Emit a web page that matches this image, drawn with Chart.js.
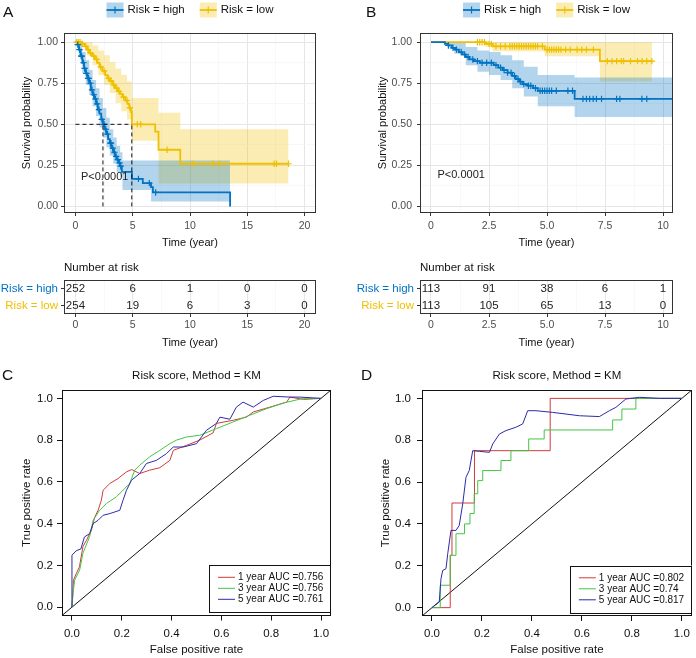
<!DOCTYPE html>
<html><head><meta charset="utf-8">
<script src="https://cdn.jsdelivr.net/npm/chart.js"></script>
<style>
html,body{margin:0;padding:0;background:#fff}
body{width:696px;height:658px;position:relative;overflow:hidden}
canvas{position:absolute;display:block}
</style></head>
<body>
<canvas id="kmA" width="340" height="252" style="left:0;top:0;width:340px;height:252px"></canvas>
<canvas id="tabA" width="340" height="100" style="left:0;top:255px;width:340px;height:100px"></canvas>
<canvas id="kmB" width="350" height="252" style="left:346px;top:0;width:350px;height:252px"></canvas>
<canvas id="tabB" width="350" height="100" style="left:346px;top:255px;width:350px;height:100px"></canvas>
<canvas id="rocC" width="346" height="303" style="left:0;top:355px;width:346px;height:303px"></canvas>
<canvas id="rocD" width="350" height="303" style="left:346px;top:355px;width:350px;height:303px"></canvas>
<script>
// ================= DATA =================
const groups = ['Risk = high', 'Risk = low'];

// ---- Panel A (Kaplan-Meier) ----
const kmA_highTime = [0,0.15,0.3,0.45,0.6,0.75,0.9,1.05,1.2,1.35,1.5,1.65,1.8,1.95,2.1,2.25,2.4,2.55,2.7,2.85,3.0,3.15,3.3,3.45,3.6,3.75,3.9,4.05,4.93,5.88,6.6,6.76,13.5];
const kmA_highSurv = [1,0.985,0.955,0.915,0.875,0.84,0.81,0.78,0.75,0.71,0.68,0.655,0.625,0.59,0.565,0.53,0.5,0.47,0.44,0.41,0.385,0.355,0.33,0.305,0.285,0.265,0.245,0.21,0.168,0.142,0.118,0.085,0];
const kmA_highCensor = [0.2,0.35,0.5,0.55,0.7,0.8,0.95,1.1,1.15,1.3,1.45,1.6,1.75,1.9,2.05,2.3,2.5,2.65,2.8,3.05,3.1,3.25,3.4,3.55,3.7,3.85,3.95,5.5,6.45,7.0];
const kmA_highBandTime = [0,0.3,0.6,0.9,1.2,1.5,1.8,2.1,2.4,2.7,3.0,3.3,3.6,3.9,4.1,6.6,13.5];
const kmA_highUpper = [1,0.99,0.94,0.89,0.83,0.77,0.72,0.66,0.60,0.54,0.47,0.42,0.37,0.33,0.28,0.28,0.28];
const kmA_highLower = [1,0.92,0.81,0.74,0.68,0.61,0.55,0.48,0.42,0.36,0.31,0.26,0.21,0.18,0.10,0.03,0.03];

const kmA_lowTime = [0,0.5,0.8,1.0,1.2,1.45,1.7,1.9,2.1,2.35,2.6,2.8,3.0,3.25,3.45,3.7,3.9,4.1,4.35,4.55,4.7,4.85,4.92,6.96,7.25,9.15,18.6];
const kmA_lowSurv = [1,0.99,0.975,0.955,0.935,0.915,0.895,0.875,0.85,0.825,0.8,0.78,0.765,0.74,0.72,0.7,0.685,0.665,0.645,0.625,0.6,0.575,0.5,0.455,0.345,0.26,0.26];
const kmA_lowCensor = [0.1,0.25,0.4,0.6,0.9,1.1,1.3,1.6,1.85,2.2,2.5,2.9,3.1,3.35,3.6,3.8,4.2,4.5,4.75,5.4,5.7,8.0,10.3,12.0,12.6,17.35,17.55,18.6];
const kmA_lowBandTime = [0,0.5,1.0,1.5,2.0,2.5,3.0,3.5,4.0,4.5,4.92,7.25,9.15,18.6];
const kmA_lowUpper = [1,1,1,0.98,0.95,0.92,0.88,0.84,0.80,0.76,0.66,0.57,0.47,0.47];
const kmA_lowLower = [1,0.97,0.92,0.86,0.80,0.74,0.69,0.63,0.58,0.53,0.40,0.14,0.14,0.14];

const kmA_median = [2.4, 4.92];
const kmA_pValue = 'P<0.0001';
const kmA_xTicks = [0,5,10,15,20];
const kmA_xLabels = ['0','5','10','15','20'];
const riskA_times = [0,5,10,15,20];
const riskA_high = [252,6,1,0,0];
const riskA_low = [254,19,6,3,0];

// ---- Panel B (Kaplan-Meier) ----
const kmB_highTime = [0,0.6,0.75,0.9,1.05,1.2,1.35,1.5,1.65,1.85,2.1,2.7,2.9,3.1,3.3,3.5,3.65,3.8,3.95,4.15,4.4,4.6,6.19,10.45];
const kmB_highSurv = [1,0.99,0.98,0.966,0.955,0.94,0.925,0.91,0.895,0.885,0.875,0.86,0.845,0.83,0.815,0.795,0.775,0.76,0.745,0.735,0.72,0.704,0.655,0.655];
const kmB_highCensor = [0.75,0.95,1.1,1.3,1.45,1.6,1.8,2.0,2.2,2.4,2.6,2.8,3.0,3.15,3.3,3.45,3.6,3.75,3.85,4.0,4.2,4.3,4.5,4.7,4.8,4.9,5.0,5.1,5.2,5.4,5.9,6.1,6.55,6.7,6.84,6.99,7.13,7.35,8.0,8.14,9.09,9.3];
const kmB_highBandTime = [0,0.6,1.0,1.5,2.0,2.5,3.0,3.5,4.0,4.6,6.19,10.45];
const kmB_highUpper = [1,1,1,0.97,0.95,0.94,0.92,0.89,0.85,0.80,0.785,0.785];
const kmB_highLower = [1,0.98,0.93,0.86,0.82,0.80,0.77,0.72,0.67,0.61,0.545,0.545];

const kmB_lowTime = [0,2.35,2.65,4.9,7.28,9.52];
const kmB_lowSurv = [1,0.99,0.975,0.955,0.885,0.885];
const kmB_lowCensor = [2.0,2.1,2.2,2.3,2.5,2.6,2.8,3.0,3.2,3.4,3.5,3.6,3.7,3.8,3.9,4.0,4.1,4.2,4.3,4.4,4.5,4.6,4.8,5.0,5.1,5.2,5.3,5.4,5.5,5.6,5.8,6.0,6.3,6.5,6.7,7.0,7.6,7.8,8.0,8.2,8.3,8.6,8.9,9.1,9.3,9.52];
const kmB_lowBandTime = [0,2.35,2.65,4.9,7.28,9.52];
const kmB_lowUpper = [1,1,1,1,1,1];
const kmB_lowLower = [1,0.97,0.945,0.915,0.76,0.76];

const kmB_pValue = 'P<0.0001';
const kmB_xTicks = [0,2.5,5,7.5,10];
const kmB_xLabels = ['0','2.5','5.0','7.5','10'];
const riskB_times = [0,2.5,5,7.5,10];
const riskB_high = [113,91,38,6,1];
const riskB_low = [113,105,65,13,0];

const km_yTicks = [0,0.25,0.5,0.75,1];
const km_yLabels = ['0.00','0.25','0.50','0.75','1.00'];

// ---- Panel C (time-dependent ROC) ----
const rocC_fpr1 = [0,0.004,0.006,0.017,0.03,0.044,0.058,0.078,0.091,0.105,0.118,0.125,0.152,0.185,0.219,0.24,0.272,0.312,0.353,0.393,0.407,0.46,0.513,0.567,0.58,0.647,0.7,0.728,0.795,0.862,0.875,0.93,1];
const rocC_tpr1 = [0,0.07,0.129,0.16,0.193,0.29,0.32,0.368,0.43,0.464,0.512,0.56,0.592,0.616,0.648,0.659,0.64,0.656,0.668,0.703,0.751,0.775,0.8,0.835,0.88,0.895,0.91,0.935,0.958,0.982,1.006,0.995,1];
const rocC_fpr3 = [0,0.004,0.011,0.031,0.044,0.071,0.085,0.111,0.138,0.178,0.205,0.232,0.252,0.272,0.312,0.353,0.393,0.42,0.46,0.513,0.58,0.647,0.714,0.78,0.85,0.922,1];
const rocC_tpr3 = [0,0.066,0.13,0.178,0.258,0.338,0.416,0.464,0.496,0.528,0.56,0.592,0.656,0.68,0.72,0.751,0.783,0.8,0.815,0.823,0.855,0.887,0.919,0.95,0.978,0.998,1];
const rocC_fpr5 = [0,0,0.017,0.036,0.05,0.071,0.085,0.105,0.125,0.152,0.192,0.205,0.219,0.239,0.272,0.299,0.339,0.379,0.407,0.447,0.5,0.54,0.58,0.594,0.634,0.66,0.687,0.728,0.768,0.808,0.875,0.915,1];
const rocC_tpr5 = [0,0.249,0.27,0.279,0.336,0.352,0.4,0.416,0.44,0.448,0.464,0.512,0.56,0.608,0.64,0.688,0.703,0.735,0.767,0.767,0.783,0.847,0.88,0.91,0.9,0.958,0.982,0.958,0.99,1.01,1.006,1.006,1];
const rocC_legend = ['1 year AUC =0.756','3 year AUC =0.756','5 year AUC =0.761'];

// ---- Panel D (time-dependent ROC) ----
const rocD_fpr1 = [0,0.073,0.073,0.08,0.08,0.17,0.17,0.473,0.473,1];
const rocD_tpr1 = [0,0,0.25,0.25,0.5,0.5,0.75,0.75,1,1];
const rocD_fpr3 = [0,0.033,0.033,0.073,0.073,0.096,0.096,0.13,0.13,0.152,0.152,0.169,0.169,0.183,0.183,0.203,0.203,0.276,0.276,0.316,0.316,0.387,0.387,0.449,0.449,0.723,0.723,0.76,0.76,0.816,0.816,1];
const rocD_tpr3 = [0,0,0.107,0.107,0.25,0.25,0.353,0.353,0.4,0.4,0.45,0.45,0.544,0.544,0.607,0.607,0.655,0.655,0.703,0.703,0.75,0.75,0.806,0.806,0.849,0.849,0.897,0.897,0.949,0.949,1,1];
const rocD_fpr5 = [0,0.029,0.036,0.043,0.056,0.063,0.076,0.096,0.109,0.123,0.136,0.149,0.163,0.19,0.23,0.243,0.27,0.296,0.336,0.363,0.383,0.416,0.483,0.59,0.67,0.71,0.736,0.776,0.83,0.91,1];
const rocD_tpr5 = [0,0.027,0.138,0.178,0.186,0.258,0.369,0.369,0.393,0.496,0.623,0.655,0.75,0.747,0.742,0.782,0.83,0.846,0.862,0.878,0.941,0.941,0.933,0.917,0.913,0.941,0.957,0.997,1.005,1,1];
const rocD_legend = ['1 year AUC =0.802','3 year AUC =0.74','5 year AUC =0.817'];

const roc_ticks = [0,0.2,0.4,0.6,0.8,1];
const roc_labels = ['0.0','0.2','0.4','0.6','0.8','1.0'];
const roc_limits = [-0.04, 1.04];

// ================= STYLE / HELPERS =================
const FONT = '"Liberation Sans", Arial, Helvetica, sans-serif';
Chart.defaults.font.family = FONT;
Chart.defaults.color = '#333';
const BLUE = '#0073C2', YELLOW = '#EFC000';
const BLUE_FILL = 'rgba(0,115,194,0.30)', YELLOW_FILL = 'rgba(239,192,0,0.30)';
const ROC_COLORS = ['#D23A3A', '#45C445', '#2B2BAA'];
const KM_STEP = 'before'; // horizontal first, then vertical drop (Kaplan-Meier step)

const pts = (xs, ys) => xs.map((x, i) => ({x, y: ys[i]}));
function stepAt(ts, ss, t) { let v = ss[0]; for (let i = 0; i < ts.length; i++) { if (ts[i] <= t) v = ss[i]; } return v; }
function txt(ctx, s, x, y, o = {}) {
  ctx.save();
  ctx.font = `${o.weight || 'normal'} ${o.size || 11}px ${FONT}`;
  ctx.fillStyle = o.color || '#111';
  ctx.textAlign = o.align || 'center';
  ctx.textBaseline = o.base || 'middle';
  ctx.fillText(s, x, y);
  ctx.restore();
}
function withMinors(major) {
  const out = [];
  for (let i = 0; i < major.length; i++) { out.push(major[i]); if (i < major.length - 1) out.push((major[i] + major[i + 1]) / 2); }
  return out;
}
const framePlugin = (color) => ({
  id: 'frame',
  afterDatasetsDraw(chart) {
    const a = chart.chartArea, c = chart.ctx;
    c.save(); c.strokeStyle = color; c.lineWidth = 1;
    c.strokeRect(Math.round(a.left) + 0.5, Math.round(a.top) + 0.5, Math.round(a.right - a.left) - 1, Math.round(a.bottom - a.top) - 1);
    c.restore();
  }
});
const letterPlugin = (ch, x, y) => ({ id: 'letter', afterDraw(chart) { txt(chart.ctx, ch, x, y, {size: 15.5, color: '#111', align: 'left', base: 'alphabetic'}); } });

function kmXScale(lim, major, labels, height, tickPad, title, titlePad) {
  const all = withMinors(major);
  const isMaj = v => major.indexOf(v) >= 0;
  return {
    type: 'linear', min: lim[0], max: lim[1],
    afterBuildTicks: s => { s.ticks = all.map(v => ({value: v})); },
    afterFit: s => { s.height = height; },
    ticks: {autoSkip: false, maxRotation: 0, padding: tickPad, color: '#4D4D4D', font: {size: 10.5},
      callback: v => { const i = major.indexOf(v); return i >= 0 ? labels[i] : ''; }},
    grid: {
      color: c => (c.tick && isMaj(c.tick.value)) ? '#E6E6E6' : '#F3F3F3',
      lineWidth: c => (c.tick && isMaj(c.tick.value)) ? 1 : 0.6,
      tickColor: c => (c.tick && isMaj(c.tick.value)) ? '#333' : 'rgba(0,0,0,0)',
      tickLength: 3
    },
    border: {display: false},
    title: {display: true, text: title, color: '#111', font: {size: 11}, padding: {top: 0, bottom: titlePad}}
  };
}
function kmYScale(width, tickPad, titlePad) {
  const all = withMinors(km_yTicks);
  const isMaj = v => km_yTicks.indexOf(v) >= 0;
  return {
    type: 'linear', min: -0.04, max: 1.056,
    afterBuildTicks: s => { s.ticks = all.map(v => ({value: v})); },
    afterFit: s => { s.width = width; },
    ticks: {autoSkip: false, padding: tickPad, color: '#4D4D4D', font: {size: 10.5},
      callback: v => { const i = km_yTicks.indexOf(v); return i >= 0 ? km_yLabels[i] : ''; }},
    grid: {
      color: c => (c.tick && isMaj(c.tick.value)) ? '#E6E6E6' : '#F3F3F3',
      lineWidth: c => (c.tick && isMaj(c.tick.value)) ? 1 : 0.6,
      tickColor: c => (c.tick && isMaj(c.tick.value)) ? '#333' : 'rgba(0,0,0,0)',
      tickLength: 3
    },
    border: {display: false},
    title: {display: true, text: 'Survival probability', color: '#111', font: {size: 11}, padding: {top: titlePad, bottom: 0}}
  };
}
function kmGroup(g) {
  return [
    {data: pts(g.bandT, g.up), stepped: KM_STEP, borderWidth: 0, borderColor: 'rgba(0,0,0,0)', pointRadius: 0, fill: '+1', backgroundColor: g.fill, order: 10},
    {data: pts(g.bandT, g.lo), stepped: KM_STEP, borderWidth: 0, borderColor: 'rgba(0,0,0,0)', pointRadius: 0, fill: false, order: 10}
  ];
}
function kmLines(g) {
  return [
    {data: pts(g.t, g.s), stepped: KM_STEP, borderColor: g.color, borderWidth: 1.8, pointRadius: 0, fill: false, order: 4},
    {data: g.cens.map(t => ({x: t, y: stepAt(g.t, g.s, t)})), showLine: false, pointStyle: 'cross', pointRadius: 3.2,
      pointBorderColor: g.color, pointBackgroundColor: g.color, pointBorderWidth: 1.2, borderColor: g.color, order: 3}
  ];
}
const kmLegendPlugin = {
  id: 'kmLegend',
  afterDraw(chart) {
    const c = chart.ctx, a = chart.chartArea;
    c.save(); c.font = `11.5px ${FONT}`;
    const w = groups.map(g => c.measureText(g).width);
    c.restore();
    const key = 17, gap = 4, sep = 15, cy = 10;
    const total = key + gap + w[0] + sep + key + gap + w[1];
    let x = (a.left + a.right) / 2 - total / 2;
    [[BLUE, BLUE_FILL], [YELLOW, YELLOW_FILL]].forEach(([col, fill], i) => {
      c.save();
      c.fillStyle = fill; c.fillRect(x, cy - 7.5, key, 15);
      c.strokeStyle = col; c.lineWidth = 1.8;
      c.beginPath(); c.moveTo(x, cy); c.lineTo(x + key, cy); c.stroke();
      c.lineWidth = 1.2;
      c.beginPath(); c.moveTo(x + key / 2, cy - 3.5); c.lineTo(x + key / 2, cy + 3.5); c.stroke();
      c.restore();
      txt(c, groups[i], x + key + gap, cy, {size: 11.5, color: '#111', align: 'left'});
      x += key + gap + w[i] + sep;
    });
  }
};
const pPlugin = (label, pos) => ({
  id: 'pval',
  afterDatasetsDraw(chart) {
    txt(chart.ctx, label, chart.scales.x.getPixelForValue(pos[0]), chart.scales.y.getPixelForValue(pos[1]), {size: 11, color: '#222'});
  }
});
const baseOpts = {responsive: false, animation: false, events: [], devicePixelRatio: 1,
  plugins: {legend: {display: false}, tooltip: {enabled: false}}};

// ================= KM CHARTS =================
function kmChart(id, cfg) {
  const high = {t: cfg.hT, s: cfg.hS, cens: cfg.hC, bandT: cfg.hBT, up: cfg.hU, lo: cfg.hL, color: BLUE, fill: BLUE_FILL};
  const low = {t: cfg.lT, s: cfg.lS, cens: cfg.lC, bandT: cfg.lBT, up: cfg.lU, lo: cfg.lL, color: YELLOW, fill: YELLOW_FILL};
  const ds = [...kmGroup(high), ...kmGroup(low), ...kmLines(high), ...kmLines(low)];
  if (cfg.median) {
    const m = Math.max(...cfg.median);
    const dash = {borderColor: '#111', borderWidth: 1, borderDash: [4, 3], pointRadius: 0, fill: false, order: 1};
    ds.push({...dash, data: [{x: 0, y: 0.5}, {x: m, y: 0.5}]});
    cfg.median.forEach(md => ds.push({...dash, data: [{x: md, y: 0}, {x: md, y: 0.5}]}));
  }
  return new Chart(document.getElementById(id), {
    type: 'line',
    data: {datasets: ds},
    options: {...baseOpts,
      layout: {padding: {top: 33, right: cfg.padR, left: 0, bottom: 0}},
      scales: {x: kmXScale(cfg.xLim, cfg.xTicks, cfg.xLabels, 39, 4, 'Time (year)', 2), y: kmYScale(cfg.yW, cfg.yPad, cfg.yTitlePad)}
    },
    plugins: [framePlugin('#333'), kmLegendPlugin, pPlugin(cfg.p, cfg.pPos), letterPlugin(cfg.letter, cfg.letterX, 17)]
  });
}
function riskTable(id, cfg) {
  const ds = [
    {data: cfg.times.map(t => ({x: t, y: groups[0]})), counts: cfg.high, showLine: false, pointRadius: 0},
    {data: cfg.times.map(t => ({x: t, y: groups[1]})), counts: cfg.low, showLine: false, pointRadius: 0}
  ];
  return new Chart(document.getElementById(id), {
    type: 'line',
    data: {datasets: ds},
    options: {...baseOpts,
      layout: {padding: {top: 25, right: cfg.padR, left: 0, bottom: 0}},
      scales: {
        x: kmXScale(cfg.xLim, cfg.xTicks, cfg.xLabels, 41, 2, 'Time (year)', 5),
        y: {type: 'category', labels: groups, offset: true,
          afterFit: s => { s.width = cfg.yW; },
          ticks: {padding: 3, font: {size: 11.5}, color: c => c.index === 0 ? BLUE : YELLOW},
          grid: {drawOnChartArea: false, tickLength: 3, tickColor: '#333'},
          border: {display: false}}
      }
    },
    plugins: [framePlugin('#333'), {
      id: 'riskText',
      afterDatasetsDraw(chart) {
        const c = chart.ctx;
        chart.data.datasets.forEach((d, i) => {
          chart.getDatasetMeta(i).data.forEach((el, j) => txt(c, String(d.counts[j]), el.x, el.y, {size: 11.5, color: '#222'}));
        });
        txt(c, 'Number at risk', chart.chartArea.left, 13, {size: 11.5, color: '#111', align: 'left'});
      }
    }]
  });
}

kmChart('kmA', {hT: kmA_highTime, hS: kmA_highSurv, hC: kmA_highCensor, hBT: kmA_highBandTime, hU: kmA_highUpper, hL: kmA_highLower,
  lT: kmA_lowTime, lS: kmA_lowSurv, lC: kmA_lowCensor, lBT: kmA_lowBandTime, lU: kmA_lowUpper, lL: kmA_lowLower,
  median: kmA_median, p: kmA_pValue, pPos: [2.55, 0.18], xLim: [-1, 21], xTicks: kmA_xTicks, xLabels: kmA_xLabels,
  padR: 24, yW: 64, yPad: 3, yTitlePad: 20, letter: 'A', letterX: 3});
riskTable('tabA', {times: riskA_times, high: riskA_high, low: riskA_low, xLim: [-1, 21], xTicks: kmA_xTicks, xLabels: kmA_xLabels, padR: 24, yW: 64});

kmChart('kmB', {hT: kmB_highTime, hS: kmB_highSurv, hC: kmB_highCensor, hBT: kmB_highBandTime, hU: kmB_highUpper, hL: kmB_highLower,
  lT: kmB_lowTime, lS: kmB_lowSurv, lC: kmB_lowCensor, lBT: kmB_lowBandTime, lU: kmB_lowUpper, lL: kmB_lowLower,
  median: null, p: kmB_pValue, pPos: [1.3, 0.19], xLim: [-0.474, 10.43], xTicks: kmB_xTicks, xLabels: kmB_xLabels,
  padR: 23, yW: 74, yPad: 5, yTitlePad: 30, letter: 'B', letterX: 20});
riskTable('tabB', {times: riskB_times, high: riskB_high, low: riskB_low, xLim: [-0.474, 10.43], xTicks: kmB_xTicks, xLabels: kmB_xLabels, padR: 23, yW: 74});

// ================= ROC CHARTS =================
function rocChart(id, cfg) {
  const curves = [[cfg.f1, cfg.t1], [cfg.f3, cfg.t3], [cfg.f5, cfg.t5]];
  const ds = curves.map((c, i) => ({data: pts(c[0], c[1]), borderColor: ROC_COLORS[i], borderWidth: 1, pointRadius: 0, fill: false, order: 3 - i}));
  ds.push({data: pts(roc_limits, roc_limits), borderColor: '#111', borderWidth: 1, pointRadius: 0, fill: false, order: 5});
  const axisCommon = (title, tPad) => ({
    type: 'linear', min: roc_limits[0], max: roc_limits[1],
    afterBuildTicks: s => { s.ticks = roc_ticks.map(v => ({value: v})); },
    grid: {drawOnChartArea: false, tickLength: 5, tickColor: '#111', lineWidth: 1},
    border: {display: false},
    title: {display: true, text: title, color: '#111', font: {size: 11.5}, padding: tPad}
  });
  const x = {...axisCommon('False positive rate', {top: 0, bottom: 1}),
    afterFit: s => { s.height = cfg.xH; },
    ticks: {autoSkip: false, maxRotation: 0, padding: 6, color: '#111', font: {size: 11.5}, callback: v => roc_labels[roc_ticks.indexOf(v)]}};
  const y = {...axisCommon('True positive rate', {top: cfg.yTitlePad, bottom: 0}),
    afterFit: s => { s.width = cfg.yW; },
    ticks: {autoSkip: false, padding: cfg.yPad, color: '#111', font: {size: 11.5}, callback: v => roc_labels[roc_ticks.indexOf(v)]}};
  return new Chart(document.getElementById(id), {
    type: 'line',
    data: {datasets: ds},
    options: {...baseOpts, layout: {padding: {top: 35, right: cfg.padR, left: 0, bottom: 0}}, scales: {x, y}},
    plugins: [framePlugin('#111'), letterPlugin(cfg.letter, cfg.letterX, 25), {
      id: 'rocText',
      afterDraw(chart) {
        const c = chart.ctx, a = chart.chartArea;
        txt(c, 'Risk score, Method = KM', (a.left + a.right) / 2, 21, {size: 11.5, color: '#111'});
        const w = 122, h = 47;
        const L = a.right - w, B = a.bottom - 3.5, T = B - h;
        c.save(); c.fillStyle = '#fff'; c.fillRect(L, T, w, h);
        c.strokeStyle = '#111'; c.lineWidth = 1; c.strokeRect(Math.round(L) + 0.5, Math.round(T) + 0.5, w - 1, h);
        cfg.legend.forEach((s, i) => {
          const yy = T + 12.3 + i * 11;
          c.strokeStyle = ROC_COLORS[i]; c.beginPath(); c.moveTo(L + 9, yy); c.lineTo(L + 26, yy); c.stroke();
          txt(c, s, L + 29, yy, {size: 10, color: '#111', align: 'left'});
        });
        c.restore();
      }
    }]
  });
}
rocChart('rocC', {f1: rocC_fpr1, t1: rocC_tpr1, f3: rocC_fpr3, t3: rocC_tpr3, f5: rocC_fpr5, t5: rocC_tpr5, legend: rocC_legend,
  yW: 62, yPad: 4, yTitlePad: 20, xH: 42.5, padR: 15, letter: 'C', letterX: 2});
rocChart('rocD', {f1: rocD_fpr1, t1: rocD_tpr1, f3: rocD_fpr3, t3: rocD_tpr3, f5: rocD_fpr5, t5: rocD_tpr5, legend: rocD_legend,
  yW: 76, yPad: 6, yTitlePad: 33, xH: 42, padR: 4, letter: 'D', letterX: 15});
</script>
</body></html>
